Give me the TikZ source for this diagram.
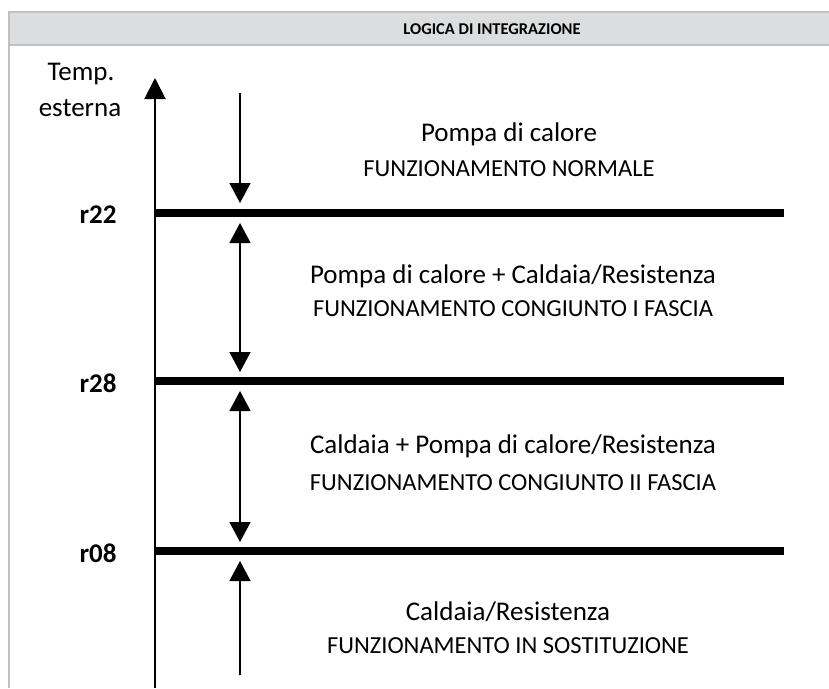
\documentclass[tikz,border=0pt]{standalone}
\usepackage{fontspec}
\setmainfont{Carlito}
\usetikzlibrary{arrows.meta}
\definecolor{hdrfill}{HTML}{DCDDDE}
\definecolor{hdrline}{HTML}{BFC0C2}
\begin{document}
\begin{tikzpicture}[x=1pt,y=-1pt,
  big/.style={font=\fontsize{27}{30}\selectfont, inner sep=0pt, anchor=center},
  caps/.style={font=\fontsize{24.5}{27}\selectfont, inner sep=0pt, anchor=center},
  lev/.style={font=\bfseries\fontsize{27}{30}\selectfont, inner sep=0pt, anchor=center},
  thresh/.style={line width=8pt},
  axisarrow/.style={line width=2pt, -{Triangle[width=21pt,length=21pt]}},
  bandarrow/.style={line width=1.5pt, {Triangle[width=21pt,length=20pt]}-{Triangle[width=21pt,length=20pt]}},
  downarrow/.style={line width=1.5pt, -{Triangle[width=21pt,length=20pt]}}
]
\useasboundingbox (0,0) rectangle (829,688);
% header
\fill[hdrfill] (9,12) rectangle (829,45);
\draw[hdrline, line width=2.5pt] (9,12) -- (829,12);
\draw[hdrline, line width=2.5pt] (9,45) -- (829,45);
\draw[hdrline, line width=2.5pt] (9,11) -- (9,688);
\node[font=\bfseries\fontsize{16.5}{19}\selectfont, inner sep=0pt] (title) at (492,29) {LOGICA DI INTEGRAZIONE};

% axis
\coordinate (axb) at (155,688);
\coordinate (axt) at (155,78);
\draw[axisarrow] (axb) -- (axt);
\node[big] (temp) at (81,74) {Temp.};
\node[big] (est) at (80,108) {esterna};

% threshold lines
\coordinate (l1a) at (155,213); \coordinate (l1b) at (784,213);
\coordinate (l2a) at (155,381); \coordinate (l2b) at (784,381);
\coordinate (l3a) at (155,551); \coordinate (l3b) at (784,551);
\draw[thresh] (l1a) -- (l1b);
\draw[thresh] (l2a) -- (l2b);
\draw[thresh] (l3a) -- (l3b);
\node[lev] (r22) at (98,215) {r22};
\node[lev] (r28) at (98,383) {r28};
\node[lev] (r08) at (98,553) {r08};

% band arrows
\coordinate (a1s) at (240,93);  \coordinate (a1e) at (240,203);
\coordinate (a2s) at (240,223); \coordinate (a2e) at (240,372);
\coordinate (a3s) at (240,391); \coordinate (a3e) at (240,542);
\coordinate (a4s) at (240,675); \coordinate (a4e) at (240,561);
\draw[downarrow] (a1s) -- (a1e);
\draw[bandarrow] (a2s) -- (a2e);
\draw[bandarrow] (a3s) -- (a3e);
\draw[downarrow] (a4s) -- (a4e);

% texts
\node[big]  (t1a) at (509,134) {Pompa di calore};
\node[caps] (t1b) at (509,169) {FUNZIONAMENTO NORMALE};
\node[big]  (t2a) at (513,276) {Pompa di calore + Caldaia/Resistenza};
\node[caps] (t2b) at (513,309) {FUNZIONAMENTO CONGIUNTO I FASCIA};
\node[big]  (t3a) at (513,446) {Caldaia + Pompa di calore/Resistenza};
\node[caps] (t3b) at (513,483) {FUNZIONAMENTO CONGIUNTO II FASCIA};
\node[big]  (t4a) at (508,612) {Caldaia/Resistenza};
\node[caps] (t4b) at (508,646) {FUNZIONAMENTO IN SOSTITUZIONE};
\end{tikzpicture}
\end{document}
